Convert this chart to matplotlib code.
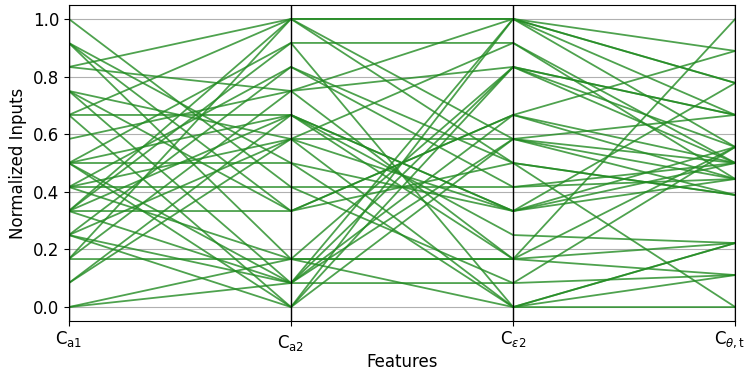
import matplotlib
matplotlib.use("Agg")
import matplotlib.pyplot as plt
import matplotlib.transforms as mtransforms
import pandas as pd
from pandas.plotting import parallel_coordinates

# feature levels (Ca1, Ca2, Ce2 in twelfths, Ctheta in eighteenths)
ca1 = [12, 11, 11, 11, 10, 10, 9, 9, 9, 8, 8, 7, 6, 6, 6, 6, 5, 5, 5,
       4, 4, 4, 4, 4, 3, 3, 3, 2, 2, 2, 1, 1, 0, 0, 6, 8, 3, 5]
ca2 = [5, 6, 4, 2, 12, 9, 7, 4, 1, 12, 8, 9, 6, 11, 0, 8, 5, 10, 2,
       4, 12, 8, 11, 1, 10, 7, 0, 2, 9, 12, 7, 8, 1, 2, 1, 0, 1, 7]
ce2 = [5, 4, 8, 10, 12, 2, 11, 6, 7, 12, 3, 12, 0, 11, 10, 4, 1, 6, 2,
       8, 7, 2, 0, 12, 5, 4, 12, 2, 10, 6, 0, 4, 8, 0, 10, 7, 1, 7]
cth = [9, 8, 16, 10, 14, 18, 9, 7, 12, 12, 4, 10, 2, 8, 9, 14, 2, 0, 4,
       8, 7, 10, 4, 16, 8, 9, 14, 2, 12, 7, 0, 10, 9, 4, 12, 8, 10, 9]

feature_labels = [r"C$_{\mathrm{a1}}$", r"C$_{\mathrm{a2}}$",
                  r"C$_{\varepsilon2}$", r"C$_{\theta,\mathrm{t}}$"]

df = pd.DataFrame({
    "Ca1": [v / 12 for v in ca1],
    "Ca2": [v / 12 for v in ca2],
    "Ce2": [v / 12 for v in ce2],
    "Cth": [v / 18 for v in cth],
})
df["cls"] = "all"

plt.rcParams["mathtext.fontset"] = "dejavusans"
fig = plt.figure(figsize=(7.48, 3.76), dpi=100)
ax = fig.add_axes([0.092, 0.145, 0.891, 0.843])

parallel_coordinates(df, "cls", color=["forestgreen"], alpha=0.8, lw=1.3, ax=ax)
leg = ax.get_legend()
if leg is not None:
    leg.remove()

ax.set_ylim(-0.05, 1.05)
ax.set_xticks(range(4))
ax.set_xticklabels(feature_labels, fontsize=12)
ax.tick_params(axis="x", pad=2)
ax.tick_params(axis="y", labelsize=12)
ax.set_xlabel("Features", fontsize=12, labelpad=0)
ax.set_ylabel("Normalized Inputs", fontsize=12)

# the Ca2 label sits a bit lower in the original
lbl = ax.get_xticklabels()[1]
lbl.set_transform(lbl.get_transform() +
                  mtransforms.ScaledTranslation(0, -4 / 100, fig.dpi_scale_trans))
# keep the last label inside the canvas
last = ax.get_xticklabels()[3]
last.set_transform(last.get_transform() +
                   mtransforms.ScaledTranslation(-6 / 100, 0, fig.dpi_scale_trans))

fig.savefig("out.png", dpi=100)
